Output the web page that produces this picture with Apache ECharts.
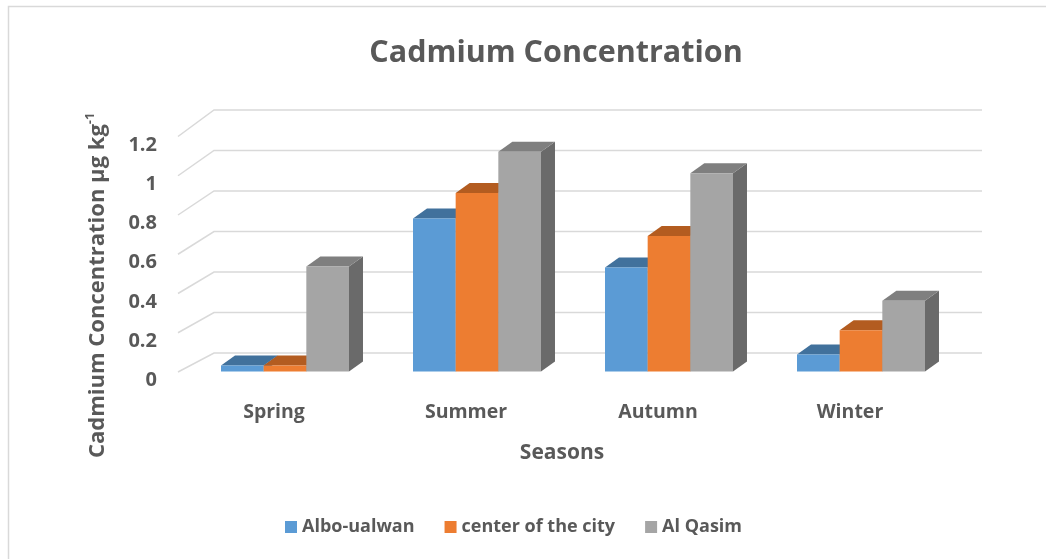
<!DOCTYPE html>
<html>
<head>
<meta charset="utf-8">
<script src="https://cdn.jsdelivr.net/npm/echarts@6/dist/echarts.min.js"></script>
<style>
  html, body { margin: 0; padding: 0; background: #fff; }
  #chart { width: 1046px; height: 559px; }
</style>
</head>
<body>
<div id="chart"></div>
<script>
// data
var seasons = ["Spring", "Summer", "Autumn", "Winter"];
var alboUalwan = [0.03, 0.78, 0.53, 0.087];
var centerCity = [0.03, 0.91, 0.69, 0.21];
var alQasim = [0.535, 1.12, 1.01, 0.36];
var yTicks = [0, 0.2, 0.4, 0.6, 0.8, 1, 1.2];

var seriesNames = ["Albo-ualwan", "center of the city", "Al Qasim"];
var seriesValues = [alboUalwan, centerCity, alQasim];
// front, top, side shades
var shades = [
  ["#5B9BD5", "#41719C", "#3A6790"],
  ["#ED7D31", "#B35C20", "#A4531C"],
  ["#A5A5A5", "#7F7F7F", "#6A6A6A"]
];

var textColor = "#595959";
var fontFam = "'Open Sans', sans-serif";

// back wall + diagonal gridlines (3d look)
function renderGridLine(params, api) {
  var v = api.value(1);
  var cs = params.coordSys;
  var y = api.coord([0, v])[1];
  var dy = 19 + 7.5 * v / 1.2; // perspective: deeper slant higher up
  var x0 = cs.x, x1 = cs.x + cs.width;
  return {
    type: "polyline",
    shape: { points: [[x0, y], [x0 + 36, y - dy], [x1 + 36, y - dy]] },
    style: { stroke: "#D9D9D9", lineWidth: 1.5, fill: null },
    silent: true
  };
}

function makeBarRenderer(k) {
  return function (params, api) {
    var i = api.value(0);
    var v = api.value(1);
    var base = api.coord([i, 0]);
    var top = api.coord([i, v]);
    var catW = api.size([1, 0])[0];
    var bw = catW * 0.2222;
    var x = base[0] - 1.5 * bw + k * bw + 11;
    var yb = base[1] - 0.5;
    var yt = top[1] - 0.5;
    var dx = 14, dz = 10;
    var c = shades[k];
    return {
      type: "group",
      children: [
        {
          type: "polygon",
          shape: { points: [[x + bw, yt], [x + bw + dx, yt - dz], [x + bw + dx, yb - dz], [x + bw, yb]] },
          style: { fill: c[2] }
        },
        {
          type: "polygon",
          shape: { points: [[x, yt], [x + bw, yt], [x + bw + dx, yt - dz], [x + dx, yt - dz]] },
          style: { fill: c[1] }
        },
        {
          type: "rect",
          shape: { x: x, y: yt, width: bw, height: yb - yt },
          style: { fill: c[0] }
        }
      ]
    };
  };
}

var series = [{
  type: "custom",
  name: "grid",
  renderItem: renderGridLine,
  data: yTicks.map(function (v) { return [0, v]; }),
  z: 1,
  silent: true
}];
seriesValues.forEach(function (vals, k) {
  series.push({
    type: "custom",
    name: seriesNames[k],
    renderItem: makeBarRenderer(k),
    itemStyle: { color: shades[k][0] },
    data: vals.map(function (v, i) { return [i, v]; }),
    z: 2 + k
  });
});

var chart = echarts.init(document.getElementById("chart"));
chart.setOption({
  backgroundColor: "#fff",
  animation: false,
  textStyle: { fontFamily: fontFam },
  title: {
    text: "Cadmium Concentration",
    left: 551,
    top: 33,
    textAlign: "center",
    textStyle: { fontSize: 30.5, fontWeight: "bold", color: textColor, fontFamily: fontFam }
  },
  legend: {
    data: seriesNames,
    left: 280,
    top: 513,
    icon: "rect",
    itemWidth: 12,
    itemHeight: 12,
    itemGap: 30,
    textStyle: { fontSize: 18, fontWeight: "bold", color: textColor, fontFamily: fontFam }
  },
  grid: { left: 178, right: 100, top: 136.5, bottom: 187 },
  xAxis: {
    type: "category",
    data: seasons,
    axisLine: { show: false },
    axisTick: { show: false },
    axisLabel: { margin: 30, fontSize: 19.5, fontWeight: "bold", color: textColor },
    name: "Seasons",
    nameLocation: "middle",
    nameGap: 71,
    nameTextStyle: { fontSize: 21, fontWeight: "bold", color: textColor }
  },
  yAxis: {
    type: "value",
    min: 0,
    max: 1.2,
    interval: 0.2,
    axisLine: { show: false },
    axisTick: { show: false },
    splitLine: { show: false },
    axisLabel: {
      margin: 21,
      fontSize: 20,
      fontWeight: "bold",
      color: textColor,
      verticalAlign: "top",
      lineHeight: 17
    },
    name: "Cadmium Concentration µg kg{sup|-1}",
    nameLocation: "middle",
    nameRotate: 90,
    nameGap: 66,
    nameTextStyle: {
      fontSize: 22,
      fontWeight: "bold",
      color: textColor,
      padding: [0, 62, 0, 0],
      rich: {
        sup: { fontSize: 13, fontWeight: "bold", color: textColor, padding: [0, 0, 15, 0] }
      }
    }
  },
  graphic: [{
    type: "rect",
    left: 6,
    top: 4,
    shape: { width: 1100, height: 600 },
    style: { fill: null, stroke: "#D9D9D9", lineWidth: 1.5 },
    silent: true,
    z: -1
  }],
  series: series
});
</script>
</body>
</html>
